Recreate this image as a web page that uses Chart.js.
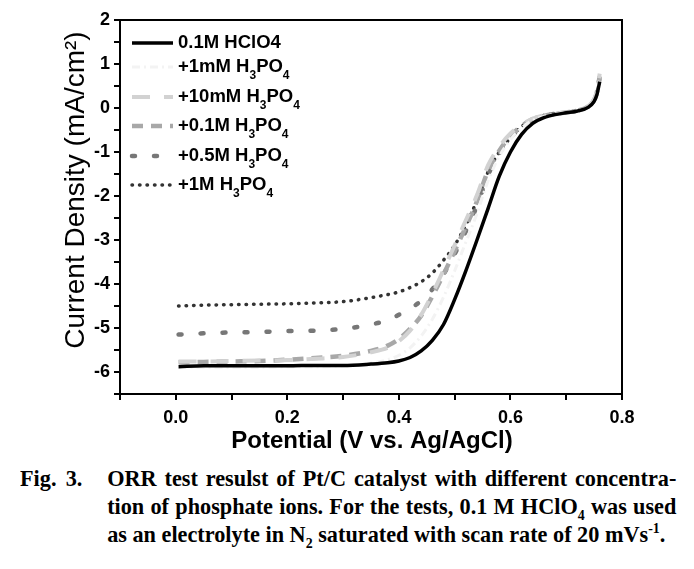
<!DOCTYPE html>
<html>
<head>
<meta charset="utf-8">
<script src="https://cdn.jsdelivr.net/npm/chart.js@4.4.1/dist/chart.umd.min.js"></script>
<style>
  html, body { margin: 0; padding: 0; background: #fff; }
  #wrap { position: relative; width: 694px; height: 460px; }
  .cap { position: absolute; left: 20px; width: 708px; height: 30px; font: bold 24px "Liberation Serif", "Times New Roman", serif; color: #000; white-space: nowrap; transform: scaleX(0.927); transform-origin: 0 0; }
  .cap .in { position: absolute; top: 0; left: 94px; right: 0; }
  .just { text-align: justify; text-align-last: justify; }
  sub, sup { font-size: 15px; line-height: 0; }
</style>
</head>
<body>
<div id="wrap"><canvas id="c"></canvas></div>
<div class="cap" style="top:465px"><span style="word-spacing:4px">Fig. 3.</span><div class="in just">ORR test resulst of Pt/C catalyst with different concentra-</div></div>
<div class="cap" style="top:493px"><div class="in just">tion of phosphate ions. For the tests, 0.1 M HClO<sub>4</sub> was used</div></div>
<div class="cap" style="top:521px"><div class="in">as an electrolyte in N<sub>2</sub> saturated with scan rate of 20 mVs<sup>-1</sup>.</div></div>
<script>
// potential (V vs. Ag/AgCl)
const POTENTIAL = [0.005, 0.05, 0.1, 0.15, 0.2, 0.25, 0.3, 0.35, 0.38, 0.40, 0.42, 0.44, 0.46, 0.48, 0.50,
  0.52, 0.54, 0.56, 0.58, 0.60, 0.62, 0.64, 0.66, 0.68, 0.70, 0.72, 0.74, 0.75, 0.755, 0.76];

// current density (mA/cm2) per electrolyte
const HCLO4 = [-5.88, -5.86, -5.86, -5.86, -5.86, -5.85, -5.85, -5.82, -5.79, -5.75, -5.67, -5.52, -5.28, -4.92, -4.35,
  -3.70, -3.00, -2.28, -1.55, -1.00, -0.60, -0.35, -0.22, -0.15, -0.11, -0.07, 0.02, 0.15, 0.30, 0.60];
const P_1MM = [-5.90, -5.89, -5.89, -5.89, -5.88, -5.88, -5.86, -5.80, -5.72, -5.62, -5.45, -5.18, -4.80, -4.30, -3.70,
  -3.05, -2.40, -1.65, -1.10, -0.72, -0.45, -0.28, -0.19, -0.14, -0.10, -0.06, 0.04, 0.18, 0.36, 0.70];
const P_10MM = [-5.76, -5.76, -5.75, -5.74, -5.73, -5.70, -5.66, -5.55, -5.45, -5.30, -5.06, -4.70, -4.22, -3.68, -3.12,
  -2.55, -1.98, -1.30, -0.88, -0.58, -0.38, -0.24, -0.17, -0.13, -0.10, -0.06, 0.05, 0.20, 0.40, 0.78];
const P_01M = [-5.78, -5.77, -5.76, -5.75, -5.72, -5.68, -5.63, -5.52, -5.40, -5.25, -5.02, -4.72, -4.28, -3.78, -3.25,
  -2.70, -2.12, -1.42, -0.97, -0.64, -0.41, -0.25, -0.18, -0.13, -0.10, -0.06, 0.04, 0.18, 0.36, 0.72];
const P_05M = [-5.15, -5.12, -5.10, -5.09, -5.07, -5.06, -5.02, -4.92, -4.82, -4.70, -4.56, -4.38, -4.12, -3.78, -3.32,
  -2.80, -2.22, -1.52, -1.03, -0.68, -0.43, -0.26, -0.18, -0.13, -0.10, -0.06, 0.04, 0.18, 0.35, 0.70];
const P_1M = [-4.50, -4.48, -4.47, -4.46, -4.45, -4.43, -4.40, -4.31, -4.24, -4.18, -4.08, -3.95, -3.75, -3.46, -3.12,
  -2.66, -2.10, -1.45, -1.00, -0.68, -0.42, -0.25, -0.17, -0.13, -0.10, -0.06, 0.04, 0.18, 0.35, 0.68];

const LABELS = ['0.1M HClO4', '+1mM H_3PO_4', '+10mM H_3PO_4', '+0.1M H_3PO_4', '+0.5M H_3PO_4', '+1M H_3PO_4'];
const X_TITLE = 'Potential (V vs. Ag/AgCl)';
const Y_TITLE = 'Current Density (mA/cm\u00B2)';

const FONT = '"Liberation Sans", Arial, sans-serif';

const STYLES = [
  { borderColor: '#000', borderWidth: 3.5 },
  { borderColor: '#f3f3f3', borderWidth: 3, borderDash: [8, 4, 2, 4] },
  { borderColor: '#d2d2d2', borderWidth: 4, borderDash: [18, 14] },
  { borderColor: '#a8a8a8', borderWidth: 4.5, borderDash: [11, 8] },
  { borderColor: '#777', borderWidth: 4.5, borderDash: [3, 19], borderCapStyle: 'round' },
  { borderColor: '#333', borderWidth: 3.5, borderDash: [0.5, 7], borderCapStyle: 'round' },
];

function toPoints(ys) {
  return ys.map((y, i) => ({ x: POTENTIAL[i], y }));
}

const SERIES = [HCLO4, P_1MM, P_10MM, P_01M, P_05M, P_1M];

const frame = {
  id: 'frame',
  afterDraw(chart) {
    const { ctx, chartArea: a } = chart;
    ctx.save();
    ctx.strokeStyle = '#000';
    ctx.lineWidth = 2;
    ctx.strokeRect(a.left, a.top, a.right - a.left, a.bottom - a.top);

    // axis titles
    ctx.fillStyle = '#000';
    ctx.textAlign = 'center';
    ctx.textBaseline = 'middle';
    ctx.font = 'bold 24px ' + FONT;
    ctx.fillText(X_TITLE, (a.left + a.right) / 2 + 1, 441);
    ctx.translate(76, 190);
    ctx.rotate(-Math.PI / 2);
    ctx.font = '28px ' + FONT;
    ctx.fillText(Y_TITLE, 0, 0);
    ctx.restore();
  },
};

const legend = {
  id: 'subLegend',
  afterDatasetsDraw(chart) {
    const { ctx } = chart;
    const rows = [43, 67, 97, 126, 156, 185];
    ctx.save();
    chart.data.datasets.forEach((ds, i) => {
      const y = rows[i];
      ctx.beginPath();
      ctx.strokeStyle = ds.borderColor;
      ctx.lineWidth = ds.borderWidth;
      ctx.lineCap = ds.borderCapStyle || 'butt';
      ctx.setLineDash(ds.borderDash || []);
      ctx.moveTo(132, y);
      ctx.lineTo(173, y);
      ctx.stroke();
      ctx.setLineDash([]);

      let x = 178;
      ctx.fillStyle = '#000';
      ctx.textBaseline = 'middle';
      ctx.textAlign = 'left';
      ds.label.split(/_(\d)/).forEach((part, k) => {
        if (k % 2) {
          ctx.font = 'bold 12px ' + FONT;
          ctx.fillText(part, x, y + 9);
        } else {
          ctx.font = 'bold 18.5px ' + FONT;
          ctx.fillText(part, x, y);
        }
        x += ctx.measureText(part).width;
      });
    });
    ctx.restore();
  },
};

new Chart(document.getElementById('c'), {
  type: 'line',
  data: {
    datasets: SERIES.map((ys, i) => ({
      label: LABELS[i],
      data: toPoints(ys),
      ...STYLES[i],
      pointRadius: 0,
      fill: false,
      cubicInterpolationMode: 'monotone',
    })),
  },
  options: {
    responsive: true,
    maintainAspectRatio: false,
    animation: false,
    layout: { padding: { left: 55, right: 72, top: 20, bottom: 0 } },
    plugins: { legend: { display: false }, tooltip: { enabled: false } },
    scales: {
      x: {
        type: 'linear',
        min: -0.1,
        max: 0.8,
        afterFit(scale) { scale.height = 66; },
        border: { display: true, color: '#000', width: 2 },
        grid: { drawOnChartArea: false, drawTicks: true, tickLength: 6, color: '#000', lineWidth: 2 },
        ticks: {
          stepSize: 0.1,
          color: '#000',
          padding: 7,
          maxRotation: 0,
          autoSkip: false,
          font: { family: FONT, size: 18, weight: 'bold' },
          callback(v) {
            const k = Math.round(v * 10);
            return k % 2 === 0 ? (k / 10).toFixed(1) : '';
          },
        },
      },
      y: {
        min: -6.5,
        max: 2,
        afterFit(scale) { scale.width = 65; },
        border: { display: true, color: '#000', width: 2 },
        grid: { drawOnChartArea: false, drawTicks: true, tickLength: 6, color: '#000', lineWidth: 2 },
        ticks: {
          stepSize: 0.5,
          color: '#000',
          padding: 4,
          autoSkip: false,
          font: { family: FONT, size: 18, weight: 'bold' },
          callback(v) { return Number.isInteger(v) ? String(v) : ''; },
        },
      },
    },
  },
  plugins: [frame, legend],
});
</script>
</body>
</html>
